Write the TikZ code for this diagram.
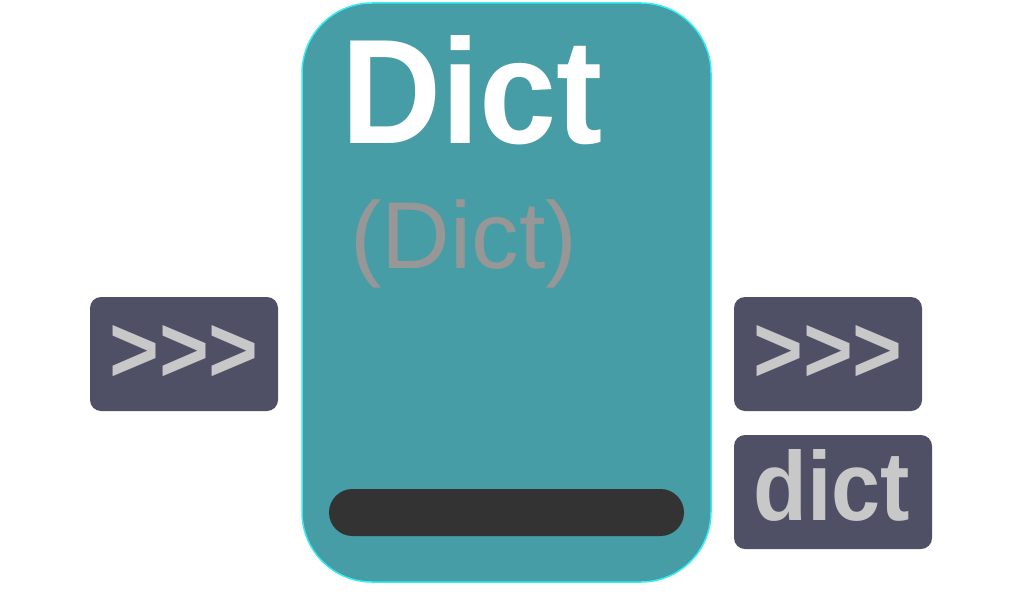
\documentclass[tikz,border=0pt]{standalone}
\usepackage{fontspec}
\setmainfont{Liberation Sans}
\newfontfamily\boldnarrow[FakeStretch=0.9]{Liberation Sans Bold}
\newfontfamily\boldtitle[FakeStretch=0.93]{Liberation Sans Bold}
\definecolor{teal}{HTML}{469DA6}
\definecolor{cyanedge}{HTML}{33EEF5}
\definecolor{slate}{HTML}{4F5065}
\definecolor{lightgray}{HTML}{C8C8C8}
\definecolor{midgray}{HTML}{979797}
\definecolor{bardark}{HTML}{333333}
\tikzset{
  mainbox/.style={fill=teal, draw=cyanedge, line width=1.5pt, rounded corners=70pt},
  tagbox/.style={fill=slate, rounded corners=11pt},
  tagtext/.style={text=lightgray, inner sep=0pt, font=\boldnarrow},
}
\begin{document}
\begin{tikzpicture}[x=1pt,y=-1pt]
\useasboundingbox (0,0) rectangle (1030,594);
% main block
\path[mainbox] (302,3) rectangle (711,582);
\node[inner sep=0pt, anchor=base west, text=white, font=\boldtitle\fontsize{149}{149}\selectfont] (title) at (341,143) {Dict};
\node[inner sep=0pt, anchor=base west, text=midgray, font=\fontsize{95}{95}\selectfont] (subtitle) at (350,268) {(Dict)};
\path[fill=bardark, rounded corners=23.5pt] (329,489) rectangle (684,536);
\coordinate (bar) at (506,512);
% left tag
\path[tagbox] (90,297) rectangle (278,411);
\node[tagtext, anchor=base, font=\boldnarrow\fontsize{95}{95}\selectfont] (inL) at (184,382) {>>>};
% right tags
\path[tagbox] (734,297) rectangle (922,411);
\node[tagtext, anchor=base, font=\boldnarrow\fontsize{95}{95}\selectfont] (outR) at (828,382) {>>>};
\path[tagbox] (734,435) rectangle (932,549);
\node[tagtext, anchor=base west, font=\boldnarrow\fontsize{98}{98}\selectfont] (typeR) at (753,520) {dict};
\end{tikzpicture}
\end{document}
